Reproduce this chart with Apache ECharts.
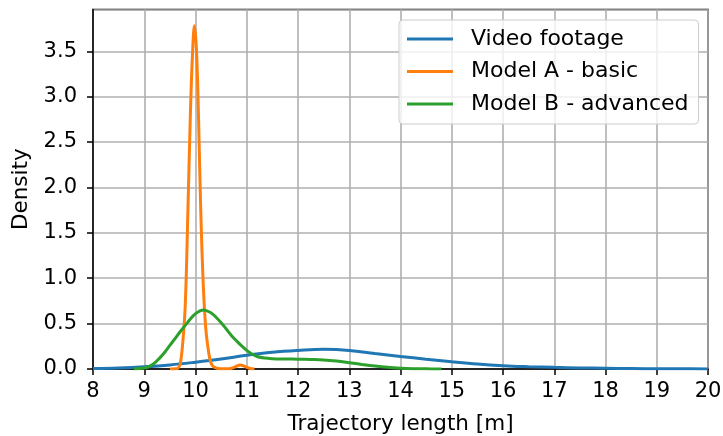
<!DOCTYPE html>
<html>
<head>
<meta charset="utf-8">
<script src="https://cdn.jsdelivr.net/npm/echarts@6/dist/echarts.min.js"></script>
<style>
html, body { margin: 0; padding: 0; background: #fff; }
#container { width: 723px; height: 436px; }
</style>
</head>
<body>
<div id="container"></div>
<script>
// Video footage
var videoX = [8, 8.5, 9, 9.5, 10, 10.5, 11, 11.5, 12, 12.5, 13, 13.5, 14, 14.5, 15, 15.5, 16, 16.5, 17, 17.5, 18, 18.5, 19, 19.5, 20];
var videoY = [0.005, 0.012, 0.025, 0.045, 0.075, 0.11, 0.152, 0.185, 0.205, 0.217, 0.205, 0.17, 0.138, 0.108, 0.08, 0.055, 0.037, 0.026, 0.018, 0.012, 0.008, 0.005, 0.003, 0.002, 0.001];

// Model A - basic
var modelAX = [9.5, 9.6, 9.66, 9.7, 9.75, 9.8, 9.85, 9.9, 9.94, 9.98, 10.02, 10.06, 10.1, 10.15, 10.2, 10.26, 10.3, 10.35, 10.42, 10.5, 10.6, 10.7, 10.8, 10.87, 10.95, 11.05, 11.15];
var modelAY = [0, 0.002, 0.01, 0.05, 0.28, 0.7, 1.7, 2.8, 3.45, 3.78, 3.5, 2.75, 1.8, 0.95, 0.45, 0.17, 0.07, 0.025, 0.008, 0.003, 0.002, 0.008, 0.03, 0.044, 0.03, 0.008, 0];

// Model B - advanced
var modelBX = [8.8, 9.0, 9.1, 9.2, 9.3, 9.4, 9.5, 9.6, 9.7, 9.8, 9.9, 10.0, 10.15, 10.3, 10.4, 10.5, 10.6, 10.7, 10.8, 10.9, 11.0, 11.1, 11.2, 11.35, 11.5, 11.75, 12.0, 12.25, 12.5, 12.75, 13.0, 13.25, 13.5, 13.75, 14.0, 14.25, 14.5, 14.8];
var modelBY = [0, 0.01, 0.03, 0.065, 0.12, 0.185, 0.26, 0.335, 0.41, 0.48, 0.55, 0.61, 0.65, 0.62, 0.57, 0.51, 0.44, 0.37, 0.31, 0.255, 0.205, 0.165, 0.138, 0.12, 0.113, 0.11, 0.108, 0.105, 0.1, 0.088, 0.07, 0.05, 0.032, 0.018, 0.009, 0.004, 0.002, 0];

var seriesNames = ['Video footage', 'Model A - basic', 'Model B - advanced'];
var seriesColors = ['#1f77b4', '#ff7f0e', '#2ca02c'];

function pairs(xs, ys) {
    return xs.map(function (x, i) { return [x, ys[i]]; });
}

var font = 'DejaVu Sans';
var dom = document.getElementById('container');
var myChart = echarts.init(dom);

function lineSeries(idx, xs, ys) {
    return {
        name: seriesNames[idx],
        type: 'line',
        data: pairs(xs, ys),
        smooth: 0.4,
        showSymbol: false,
        lineStyle: { color: seriesColors[idx], width: 3 },
        itemStyle: { color: seriesColors[idx] }
    };
}

var option = {
    animation: false,
    grid: {
        left: 93, right: 15, top: 9.5, bottom: 67,
        outerBoundsMode: 'none',
        containLabel: false,
        show: true,
        borderColor: '#000',
        borderWidth: 1.5
    },
    legend: {
        orient: 'vertical',
        left: 399,
        top: 20,
        padding: [8, 10, 9, 8],
        itemGap: 10.5,
        itemWidth: 46,
        itemHeight: 3,
        icon: 'rect',
        backgroundColor: 'rgba(255,255,255,0.8)',
        borderColor: '#cccccc',
        borderWidth: 1,
        borderRadius: 4,
        textStyle: { fontFamily: font, fontSize: 22, color: '#000', padding: [0, 0, 0, 13] },
        data: seriesNames
    },
    xAxis: {
        type: 'value',
        min: 8,
        max: 20,
        interval: 1,
        name: 'Trajectory length [m]',
        nameLocation: 'middle',
        nameGap: 44,
        nameTextStyle: { fontFamily: font, fontSize: 21.5, color: '#000' },
        axisLine: { show: true, onZero: false, lineStyle: { color: '#000', width: 1.5 } },
        axisTick: { show: true, length: 6, lineStyle: { color: '#000', width: 1.5 } },
        axisLabel: { fontFamily: font, fontSize: 21, color: '#000', margin: 12 },
        splitLine: { show: true, lineStyle: { color: '#b0b0b0', width: 1.6 } }
    },
    yAxis: {
        type: 'value',
        min: 0,
        max: 3.96,
        interval: 0.5,
        name: 'Density',
        nameLocation: 'middle',
        nameGap: 53,
        nameTextStyle: { fontFamily: font, fontSize: 21.5, color: '#000' },
        axisLine: { show: true, lineStyle: { color: '#000', width: 1.5 } },
        axisTick: { show: true, length: 6, lineStyle: { color: '#000', width: 1.5 } },
        axisLabel: {
            fontFamily: font, fontSize: 21, color: '#000', margin: 16,
            showMaxLabel: false,
            formatter: function (v) { return v.toFixed(1); }
        },
        splitLine: { show: true, lineStyle: { color: '#b0b0b0', width: 1.6 } }
    },
    series: [
        lineSeries(0, videoX, videoY),
        lineSeries(1, modelAX, modelAY),
        lineSeries(2, modelBX, modelBY)
    ]
};

if (option && typeof option === 'object') {
    myChart.setOption(option, true);
}
</script>
</body>
</html>
